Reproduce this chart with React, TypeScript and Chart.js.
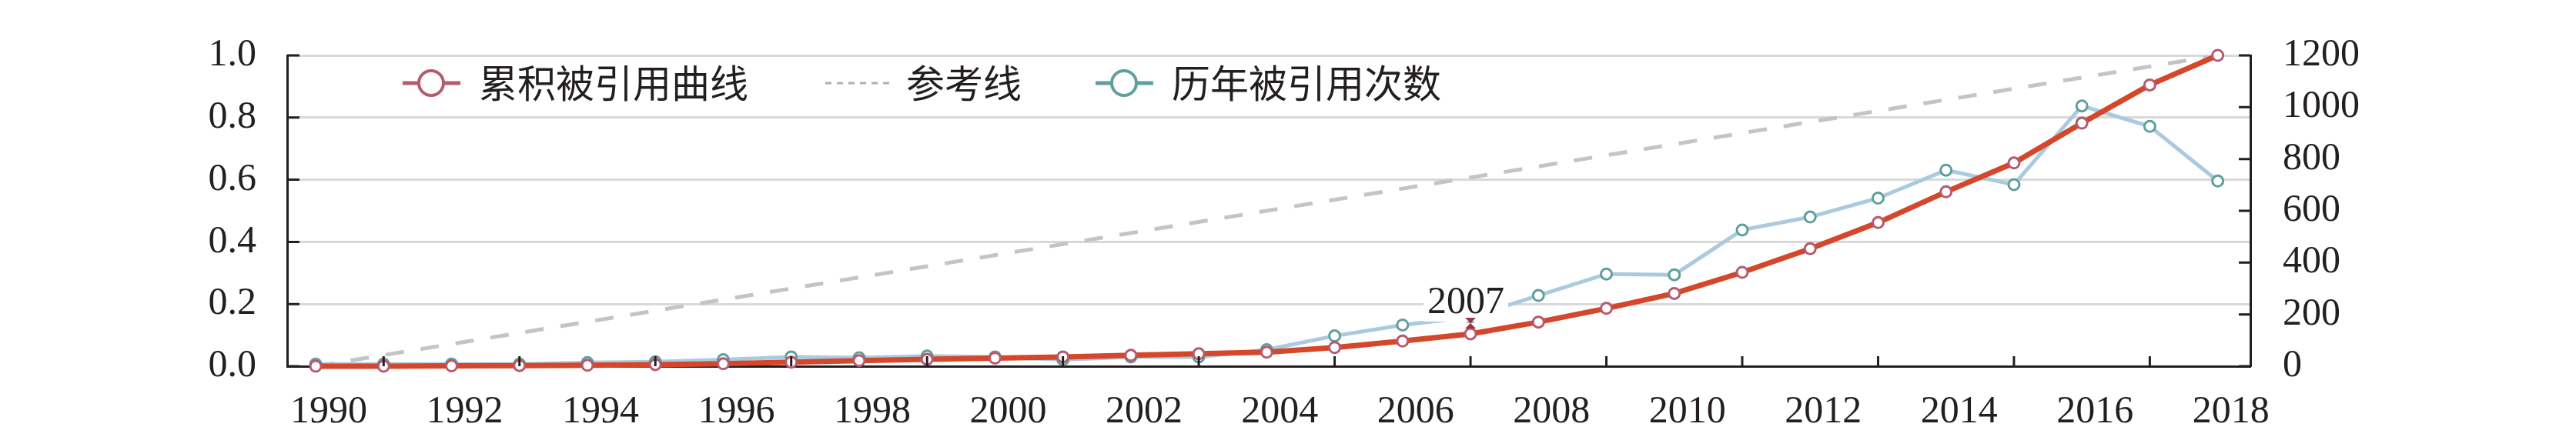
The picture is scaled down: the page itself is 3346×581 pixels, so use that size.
import React, { useEffect, useRef } from "react";
import { Chart, registerables } from "chart.js";

Chart.register(...registerables);

const FONT = '"Liberation Serif", "DejaVu Serif", serif';
const CJK_FONT = '"Noto Sans CJK SC", sans-serif';
const INK = "#231f20";

// data
const years = [
  1990, 1991, 1992, 1993, 1994, 1995, 1996, 1997, 1998, 1999,
  2000, 2001, 2002, 2003, 2004, 2005, 2006, 2007, 2008, 2009,
  2010, 2011, 2012, 2013, 2014, 2015, 2016, 2017, 2018,
];
const cumulativeShare = [
  0, 0, 0.001, 0.002, 0.003, 0.005, 0.008, 0.013, 0.018, 0.022,
  0.026, 0.03, 0.035, 0.04, 0.045, 0.06, 0.081, 0.104, 0.142, 0.186,
  0.234, 0.302, 0.378, 0.462, 0.561, 0.654, 0.782, 0.905, 1.0,
];
const yearlyCitations = [
  8, 8, 8, 8, 14, 17, 25, 36, 33, 39,
  36, 25, 36, 36, 64, 117, 159, 190, 273, 356,
  353, 526, 576, 649, 757, 701, 1005, 926, 715,
];
const referenceYears = [1990, 2018];
const referenceShare = [0, 1];

const seriesLabels = ["累积被引用曲线", "参考线", "历年被引用次数"];
const leftTickValues = [0, 0.2, 0.4, 0.6, 0.8, 1.0];
const rightTickValues = [0, 200, 400, 600, 800, 1000, 1200];
const xLabelYears = [
  1990, 1992, 1994, 1996, 1998, 2000, 2002, 2004, 2006, 2008, 2010, 2012,
  2014, 2016, 2018,
];
const annotationYear = 2007;

const RED_LINE = "#d4472b";
const RED_MARK = "#b65a6e";
const BLUE_LINE = "#abcae0";
const TEAL_MARK = "#5f9f9d";
const REF_GREY = "#c4c4c4";

const inwardTicks = {
  id: "inwardTicks",
  afterDraw(chart: any) {
    const { ctx, chartArea, scales } = chart;
    ctx.save();
    ctx.strokeStyle = INK;
    ctx.lineWidth = 3;
    ctx.beginPath();
    leftTickValues.forEach((v) => {
      const y = scales.y.getPixelForValue(v);
      ctx.moveTo(chartArea.left, y);
      ctx.lineTo(chartArea.left + 16, y);
    });
    rightTickValues.forEach((v) => {
      const y = scales.y1.getPixelForValue(v);
      ctx.moveTo(chartArea.right, y);
      ctx.lineTo(chartArea.right - 15, y);
    });
    years
      .filter((yr) => !xLabelYears.includes(yr))
      .forEach((yr) => {
        const x = scales.x.getPixelForValue(yr);
        ctx.moveTo(x, chartArea.bottom);
        ctx.lineTo(x, chartArea.bottom - 13);
      });
    ctx.stroke();
    ctx.restore();
  },
};

const yearNote = {
  id: "yearNote",
  afterDatasetsDraw(chart: any) {
    const { ctx, scales } = chart;
    const i = years.indexOf(annotationYear);
    const x = scales.x.getPixelForValue(annotationYear);
    const y = scales.y.getPixelForValue(cumulativeShare[i]);
    ctx.save();
    ctx.font = `50px ${FONT}`;
    const w = ctx.measureText(String(annotationYear)).width;
    ctx.fillStyle = "#ffffff";
    ctx.fillRect(x - 6 - w / 2 - 5, y - 66, w + 10, 50);
    ctx.fillStyle = INK;
    ctx.textAlign = "center";
    ctx.textBaseline = "middle";
    ctx.fillText(String(annotationYear), x - 6, y - 40);
    ctx.fillStyle = "#a33246";
    ctx.beginPath();
    ctx.moveTo(x - 7, y - 21);
    ctx.lineTo(x + 7, y - 21);
    ctx.lineTo(x - 7, y - 7);
    ctx.lineTo(x + 7, y - 7);
    ctx.closePath();
    ctx.fill();
    ctx.restore();
  },
};

const legendRow = {
  id: "legendRow",
  afterDraw(chart: any) {
    const { ctx, chartArea } = chart;
    const y = chartArea.top + 36;
    let x = chartArea.left + 150;
    ctx.save();
    ctx.font = `50px ${CJK_FONT}`;
    ctx.textBaseline = "middle";
    chart.data.datasets.forEach((ds: any, i: number) => {
      if (ds.pointRadius > 0) {
        ctx.strokeStyle = ds.pointBorderColor;
        ctx.lineWidth = 5;
        ctx.beginPath();
        ctx.moveTo(x, y);
        ctx.lineTo(x + 75, y);
        ctx.stroke();
        ctx.beginPath();
        ctx.arc(x + 37, y, 16, 0, Math.PI * 2);
        ctx.fillStyle = "#ffffff";
        ctx.fill();
        ctx.lineWidth = 4;
        ctx.stroke();
        x += 75 + 24;
      } else {
        ctx.strokeStyle = "#b0b0b0";
        ctx.lineWidth = 3;
        ctx.setLineDash([8, 7]);
        ctx.beginPath();
        ctx.moveTo(x, y);
        ctx.lineTo(x + 90, y);
        ctx.stroke();
        ctx.setLineDash([]);
        x += 90 + 15;
      }
      ctx.fillStyle = INK;
      ctx.fillText(ds.label, x, y);
      x += ctx.measureText(ds.label).width + (i === 0 ? 100 : 96);
    });
    ctx.restore();
  },
};

const CitationChart: React.FC = () => {
  const canvasRef = useRef<HTMLCanvasElement | null>(null);

  useEffect(() => {
    document.body.style.margin = "0";
    if (!canvasRef.current) return;
    const font = { family: FONT, size: 50 };

    const chart = new Chart(canvasRef.current, {
      type: "line",
      data: {
        datasets: [
          {
            label: seriesLabels[0],
            data: years.map((yr, i) => ({ x: yr, y: cumulativeShare[i] })),
            yAxisID: "y",
            borderColor: RED_LINE,
            borderWidth: 7,
            pointRadius: 7,
            pointBorderWidth: 3,
            pointBorderColor: RED_MARK,
            pointBackgroundColor: "#ffffff",
            order: 0,
            clip: false,
          },
          {
            label: seriesLabels[1],
            data: referenceYears.map((yr, i) => ({ x: yr, y: referenceShare[i] })),
            yAxisID: "y",
            borderColor: REF_GREY,
            borderWidth: 5,
            borderDash: [24, 22],
            pointRadius: 0,
            order: 2,
          },
          {
            label: seriesLabels[2],
            data: years.map((yr, i) => ({ x: yr, y: yearlyCitations[i] })),
            yAxisID: "y1",
            borderColor: BLUE_LINE,
            borderWidth: 5,
            pointRadius: 7,
            pointBorderWidth: 3,
            pointBorderColor: TEAL_MARK,
            pointBackgroundColor: "#ffffff",
            order: 1,
            clip: false,
          },
        ],
      },
      options: {
        responsive: false,
        animation: false,
        devicePixelRatio: 1,
        layout: { padding: { top: 43, left: 0, right: 0, bottom: 0 } },
        plugins: {
          legend: { display: false },
          tooltip: { enabled: false },
        },
        scales: {
          x: {
            type: "linear",
            position: "bottom",
            min: 1989.58,
            max: 2018.48,
            z: 1,
            afterBuildTicks: (s: any) => {
              s.ticks = years.map((v) => ({ value: v }));
            },
            afterFit: (s: any) => {
              s.height = 105;
            },
            ticks: {
              autoSkip: false,
              maxRotation: 0,
              padding: 30,
              labelOffset: 17,
              color: INK,
              font,
              callback: (v: any) => (xLabelYears.includes(v) ? String(v) : ""),
            },
            grid: { drawOnChartArea: false, drawTicks: false },
            border: { color: INK, width: 3 },
          },
          y: {
            position: "left",
            min: 0,
            max: 1,
            afterBuildTicks: (s: any) => {
              s.ticks = leftTickValues.map((v) => ({ value: v }));
            },
            afterFit: (s: any) => {
              s.width = 373;
            },
            ticks: {
              padding: 40,
              color: INK,
              font,
              callback: (v: any) => Number(v).toFixed(1),
            },
            grid: { color: "#d9d9d9", lineWidth: 3, drawTicks: false },
            border: { color: INK, width: 3 },
          },
          y1: {
            position: "right",
            min: 0,
            max: 1200,
            afterBuildTicks: (s: any) => {
              s.ticks = rightTickValues.map((v) => ({ value: v }));
            },
            afterFit: (s: any) => {
              s.width = 423;
            },
            ticks: {
              padding: 42,
              color: INK,
              font,
              callback: (v: any) => String(v),
            },
            grid: { drawOnChartArea: false, drawTicks: false },
            border: { color: INK, width: 3 },
          },
        },
      },
      plugins: [yearNote, inwardTicks, legendRow],
    });

    return () => {
      chart.destroy();
    };
  }, []);

  return (
    <div style={{ width: 3346, height: 581, background: "#ffffff" }}>
      <canvas ref={canvasRef} width={3346} height={581}></canvas>
    </div>
  );
};

export default CitationChart;
